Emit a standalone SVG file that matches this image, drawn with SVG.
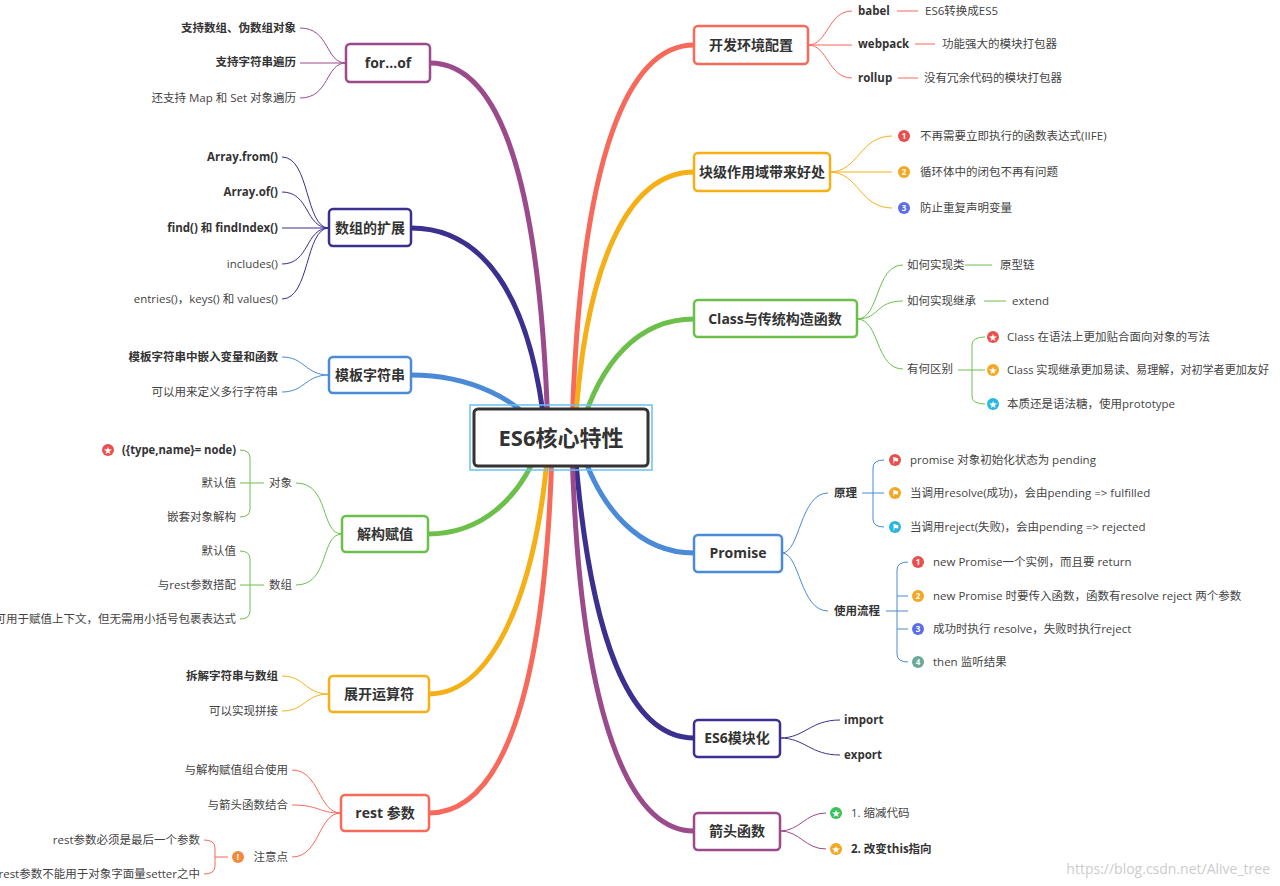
<svg xmlns="http://www.w3.org/2000/svg" width="1280" height="886" viewBox="0 0 1280 886">
<style>
text{font-family:"Open Sans","Noto Sans CJK SC",sans-serif;font-size:11.5px;fill:#444}
.b{font-weight:bold;fill:#333}
.e{text-anchor:end}
.box{fill:#fff;stroke-width:2.5}
.bt{font-size:14px;font-weight:bold;fill:#333;text-anchor:middle}
.m{fill:none;stroke-width:5;stroke-linecap:round}
.t{fill:none;stroke-width:1}
.ic{font-size:8px;font-weight:bold;fill:#fff;text-anchor:middle}
</style>
<rect width="1280" height="886" fill="#fff"/>
<g id="connectors">
<path class="m" stroke="#9b4a8c" d="M548,430 C540,180 500,63 430,63"/>
<path class="m" stroke="#3b2f8f" d="M545,430 C530,290 480,228 411,228"/>
<path class="m" stroke="#4a8ad6" d="M540,432 C520,400 470,375 411,375"/>
<path class="m" stroke="#6cc04a" d="M540,445 C520,500 480,534 428,534"/>
<path class="m" stroke="#f5b017" d="M548,450 C535,600 490,694 429,694"/>
<path class="m" stroke="#f7695a" d="M552,450 C545,700 500,813 429,813"/>
<path class="m" stroke="#f7695a" d="M572,430 C580,150 630,45 694,45"/>
<path class="m" stroke="#f5b017" d="M575,430 C585,260 630,172 694,172"/>
<path class="m" stroke="#6cc04a" d="M580,432 C600,360 640,319 694,319"/>
<path class="m" stroke="#4a8ad6" d="M580,445 C600,510 640,553 694,553"/>
<path class="m" stroke="#3b2f8f" d="M575,450 C590,640 630,738 694,738"/>
<path class="m" stroke="#9b4a8c" d="M572,450 C580,720 630,831 694,831"/>
<g stroke="#9b4a8c" class="t"><path d="M346,63 C325,63 330,28 300,28"/><path d="M346,63 H300"/><path d="M346,63 C325,63 330,98 300,98"/></g>
<g stroke="#3b2f8f" class="t"><path d="M329,228 C305,228 310,157 282,157"/><path d="M329,228 C305,228 310,192 282,192"/><path d="M329,228 H282"/><path d="M329,228 C305,228 310,264 282,264"/><path d="M329,228 C305,228 310,299 282,299"/></g>
<g stroke="#4a8ad6" class="t"><path d="M329,375 C305,375 305,357 282,357"/><path d="M329,375 C305,375 305,392 282,392"/></g>
<g stroke="#6cc04a" class="t"><path d="M342,534 C320,534 330,483 296,483"/><path d="M342,534 C320,534 330,585 296,585"/>
<path d="M264,483 H250 M240,450 Q250,450 250,458 V509 Q250,517 240,517 M250,483 H240"/>
<path d="M264,585 H250 M240,551 Q250,551 250,559 V611 Q250,619 240,619 M250,585 H240"/></g>
<g stroke="#f5b017" class="t"><path d="M329,694 C305,694 305,676 282,676"/><path d="M329,694 C305,694 305,711 282,711"/></g>
<g stroke="#f7695a" class="t"><path d="M341,813 C318,813 320,770 292,770"/><path d="M341,813 C318,813 320,805 292,805"/><path d="M341,813 C318,813 320,857 292,857"/>
<path d="M228,857 H215 M204,840 Q215,840 215,848 V866 Q215,874 204,874"/></g>
<g stroke="#f7695a" class="t"><path d="M808,45 C828,45 828,11 852,11"/><path d="M808,45 H852"/><path d="M808,45 C828,45 828,78 852,78"/>
<path d="M897,11 H918 M915,44 H935 M898,78 H918"/></g>
<g stroke="#f5b017" class="t"><path d="M830,172 C858,172 860,136 892,136"/><path d="M830,172 H892"/><path d="M830,172 C858,172 860,208 892,208"/></g>
<g stroke="#6cc04a" class="t"><path d="M857,319 C880,319 875,265 903,265"/><path d="M857,319 C880,319 875,301 903,301"/><path d="M857,319 C880,319 875,369 903,369"/>
<path d="M965,265 H992 M984,301 H1006 M958,370 H985 M985,337 Q972,337 972,345 V396 Q972,404 985,404"/></g>
<g stroke="#4a8ad6" class="t"><path d="M782,553 C800,553 800,493 828,493"/><path d="M782,553 C800,553 800,611 828,611"/>
<path d="M862,493 H884 M884,460 Q873,460 873,468 V519 Q873,527 884,527"/>
<path d="M886,611 H908 M908,562 Q897,562 897,570 V654 Q897,662 908,662 M897,596 H908 M897,629 H908"/></g>
<g stroke="#3b2f8f" class="t"><path d="M780,738 C805,738 810,720 840,720"/><path d="M780,738 C805,738 810,755 840,755"/></g>
<g stroke="#9b4a8c" class="t"><path d="M780,831 C800,831 805,813 826,813"/><path d="M780,831 C800,831 805,849 826,849"/></g>
</g>
<g id="center"><rect x="470" y="405" width="182" height="65" fill="none" stroke="#6ac1f0" stroke-width="1.5"/><rect x="474" y="409" width="174" height="57" rx="4" fill="#fff" stroke="#333" stroke-width="3"/><text x="561" y="446" style="font-size:22px;font-weight:bold;fill:#333;text-anchor:middle">ES6核心特性</text></g>
<g id="forof"><rect class="box" x="346" y="44" width="84" height="38" rx="4" stroke="#9b4a8c"/><text class="bt" x="388" y="68">for...of</text>
<text class="b e" x="296" y="32">支持数组、伪数组对象</text><text class="b e" x="296" y="66">支持字符串遍历</text><text class="e" x="296" y="102">还支持 Map 和 Set 对象遍历</text></g>
<g id="array"><rect class="box" x="329" y="209" width="82" height="37" rx="4" stroke="#3b2f8f"/><text class="bt" x="370" y="233">数组的扩展</text>
<text class="b e" x="278" y="161">Array.from()</text><text class="b e" x="278" y="196">Array.of()</text><text class="b e" x="278" y="232">find() 和 findIndex()</text><text class="e" x="278" y="268">includes()</text><text class="e" x="278" y="303">entries()，keys() 和 values()</text></g>
<g id="template"><rect class="box" x="329" y="357" width="82" height="36" rx="4" stroke="#4a8ad6"/><text class="bt" x="370" y="380">模板字符串</text>
<text class="b e" x="278" y="361">模板字符串中嵌入变量和函数</text><text class="e" x="278" y="396">可以用来定义多行字符串</text></g>
<g id="destruct"><rect class="box" x="342" y="516" width="86" height="36" rx="4" stroke="#6cc04a"/><text class="bt" x="385" y="539">解构赋值</text>
<text class="e" x="292" y="487">对象</text><text class="e" x="292" y="589">数组</text>
<circle cx="108" cy="450" r="6" fill="#e94f4f"/><text class="ic" x="108" y="453">★</text>
<text class="b e" x="236" y="454" textLength="114" lengthAdjust="spacingAndGlyphs">({type,name}= node)</text><text class="e" x="236" y="487">默认值</text><text class="e" x="236" y="521">嵌套对象解构</text>
<text class="e" x="236" y="555">默认值</text><text class="e" x="236" y="589">与rest参数搭配</text><text class="e" x="236" y="623">也可用于赋值上下文，但无需用小括号包裹表达式</text></g>
<g id="spread"><rect class="box" x="329" y="676" width="100" height="36" rx="4" stroke="#f5b017"/><text class="bt" x="379" y="699">展开运算符</text>
<text class="b e" x="278" y="680">拆解字符串与数组</text><text class="e" x="278" y="715">可以实现拼接</text></g>
<g id="rest"><rect class="box" x="341" y="795" width="88" height="36" rx="4" stroke="#f7695a"/><text class="bt" x="385" y="818">rest 参数</text>
<text class="e" x="288" y="774">与解构赋值组合使用</text><text class="e" x="288" y="809">与箭头函数结合</text><text class="e" x="288" y="861">注意点</text>
<circle cx="238" cy="857" r="6" fill="#f08a3c"/><text class="ic" x="238" y="860">!</text>
<text class="e" x="200" y="844">rest参数必须是最后一个参数</text><text class="e" x="200" y="878">rest参数不能用于对象字面量setter之中</text></g>
<g id="devenv"><rect class="box" x="694" y="26" width="114" height="38" rx="4" stroke="#f7695a"/><text class="bt" x="751" y="50">开发环境配置</text>
<text class="b" x="858" y="15">babel</text><text class="b" x="858" y="48">webpack</text><text class="b" x="858" y="82">rollup</text>
<text x="925" y="15">ES6转换成ES5</text><text x="942" y="48">功能强大的模块打包器</text><text x="924" y="82">没有冗余代码的模块打包器</text></g>
<g id="block"><rect class="box" x="694" y="153" width="136" height="38" rx="4" stroke="#f5b017"/><text class="bt" x="762" y="177">块级作用域带来好处</text>
<circle cx="904" cy="136" r="6" fill="#e94f4f"/><text class="ic" x="904" y="139">1</text>
<circle cx="904" cy="172" r="6" fill="#f5a623"/><text class="ic" x="904" y="175">2</text>
<circle cx="904" cy="208" r="6" fill="#5b6de8"/><text class="ic" x="904" y="211">3</text>
<text x="920" y="140">不再需要立即执行的函数表达式(IIFE)</text><text x="920" y="176">循环体中的闭包不再有问题</text><text x="920" y="212">防止重复声明变量</text></g>
<g id="class"><rect class="box" x="694" y="300" width="163" height="37" rx="4" stroke="#6cc04a"/><text class="bt" x="775" y="324">Class与传统构造函数</text>
<text x="907" y="269">如何实现类</text><text x="1000" y="269">原型链</text><text x="907" y="305">如何实现继承</text><text x="1012" y="305">extend</text><text x="907" y="373">有何区别</text>
<circle cx="993" cy="337" r="6" fill="#e94f4f"/><text class="ic" x="993" y="340">★</text>
<circle cx="993" cy="370" r="6" fill="#f5a623"/><text class="ic" x="993" y="373">★</text>
<circle cx="993" cy="404" r="6" fill="#29b6e0"/><text class="ic" x="993" y="407">★</text>
<text x="1007" y="341">Class 在语法上更加贴合面向对象的写法</text><text x="1007" y="374" textLength="262" lengthAdjust="spacingAndGlyphs">Class 实现继承更加易读、易理解，对初学者更加友好</text><text x="1007" y="408">本质还是语法糖，使用prototype</text></g>
<g id="promise"><rect class="box" x="694" y="535" width="88" height="37" rx="4" stroke="#4a8ad6"/><text class="bt" x="738" y="558">Promise</text>
<text class="b" x="834" y="497">原理</text><text class="b" x="834" y="615">使用流程</text>
<circle cx="895" cy="460" r="6" fill="#e94f4f"/><text class="ic" x="895" y="463">⚑</text>
<circle cx="895" cy="493" r="6" fill="#f5a623"/><text class="ic" x="895" y="496">⚑</text>
<circle cx="895" cy="527" r="6" fill="#29b6e0"/><text class="ic" x="895" y="530">⚑</text>
<text x="910" y="464">promise 对象初始化状态为 pending</text><text x="910" y="497">当调用resolve(成功)，会由pending =&gt; fulfilled</text><text x="910" y="531">当调用reject(失败)，会由pending =&gt; rejected</text>
<circle cx="918" cy="562" r="6" fill="#e94f4f"/><text class="ic" x="918" y="565">1</text>
<circle cx="918" cy="596" r="6" fill="#f5a623"/><text class="ic" x="918" y="599">2</text>
<circle cx="918" cy="629" r="6" fill="#5b6de8"/><text class="ic" x="918" y="632">3</text>
<circle cx="918" cy="662" r="6" fill="#6aa89a"/><text class="ic" x="918" y="665">4</text>
<text x="933" y="566">new Promise一个实例，而且要 return</text><text x="933" y="600">new Promise 时要传入函数，函数有resolve reject 两个参数</text><text x="933" y="633">成功时执行 resolve，失败时执行reject</text><text x="933" y="666">then 监听结果</text></g>
<g id="module"><rect class="box" x="694" y="720" width="86" height="37" rx="4" stroke="#3b2f8f"/><text class="bt" x="737" y="743">ES6模块化</text>
<text class="b" x="844" y="724">import</text><text class="b" x="844" y="759">export</text></g>
<g id="arrow"><rect class="box" x="694" y="813" width="86" height="37" rx="4" stroke="#9b4a8c"/><text class="bt" x="737" y="836">箭头函数</text>
<circle cx="836" cy="813" r="6" fill="#3cc15a"/><text class="ic" x="836" y="816">★</text>
<circle cx="836" cy="849" r="6" fill="#f5a623"/><text class="ic" x="836" y="852">★</text>
<text x="851" y="817">1. 缩减代码</text><text class="b" x="851" y="853">2. 改变this指向</text></g>
<text x="1270" y="874" style="text-anchor:end;font-size:14px;fill:#ccc">https://blog.csdn.net/Alive_tree</text>
</svg>
